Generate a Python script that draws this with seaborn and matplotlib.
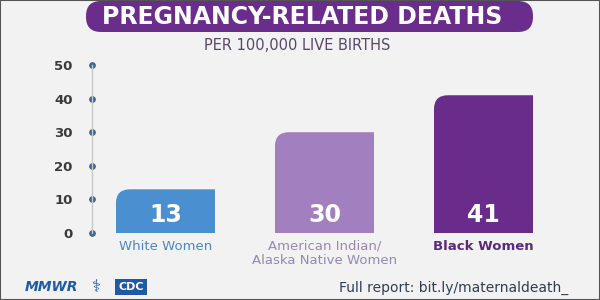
import pandas as pd
import matplotlib.pyplot as plt
import seaborn as sns
from matplotlib.patches import FancyBboxPatch, Rectangle

# values
groups = ['White Women', 'American Indian/\nAlaska Native Women', 'Black Women']
deaths = [13, 30, 41]
bar_colors = ['#4a8fd0', '#a27fbf', '#6a2c8a']
label_colors = ['#4a88c4', '#9a86b0', '#5b2a78']
yticks = [0, 10, 20, 30, 40, 50]

bg = '#f2f2f2'
df = pd.DataFrame({'group': groups, 'deaths': deaths})

sns.set_style('white')
plt.rcParams['font.family'] = ['DejaVu Sans']

fig = plt.figure(figsize=(6, 3), dpi=100, facecolor=bg)
ax = fig.add_axes([92 / 600, 67 / 300, 468 / 600, 168 / 300])
ax.set_facecolor(bg)

sns.barplot(data=df, x='group', y='deaths', hue='group', palette=bar_colors,
            width=0.623, legend=False, ax=ax, saturation=1)
ax.set_xlim(-0.462, 2.481)
ax.set_ylim(0, 50)
ax.set_yticks(yticks)
ax.set_xlabel('')
ax.set_ylabel('')
ax.set_xticks([])

for s in ['top', 'right', 'bottom']:
    ax.spines[s].set_visible(False)
ax.spines['left'].set_color('#c8c8c8')
ax.spines['left'].set_linewidth(1)

ax.tick_params(axis='y', left=True, length=0, pad=14, labelsize=9.5,
               labelcolor='#3a3a3a')
for lab in ax.get_yticklabels():
    lab.set_fontweight('semibold')
for tl in ax.yaxis.get_ticklines():
    tl.set_marker('o')
    tl.set_markersize(4)
    tl.set_markerfacecolor('#3e6690')
    tl.set_markeredgecolor('#3e6690')
    tl.set_clip_on(False)

# round the top-left corner of each bar (sizes in inches)
fig.canvas.draw()
r = 0.14
to_in = ax.transData + fig.dpi_scale_trans.inverted()
for bar, val in zip(ax.patches, deaths):
    bar.set_edgecolor('none')
    bar.set_linewidth(0)
    x0, y0 = bar.get_x(), bar.get_y()
    x1, y1 = x0 + bar.get_width(), y0 + bar.get_height()
    (ix0, iy0), (ix1, iy1) = to_in.transform([(x0, y0), (x1, y1)])
    clip = FancyBboxPatch((ix0, iy0 - 1), (ix1 - ix0) + 1, (iy1 - iy0) + 1,
                          boxstyle=f'round,pad=0,rounding_size={r}',
                          transform=fig.dpi_scale_trans)
    bar.set_clip_path(clip)
    ax.text(x0 + bar.get_width() / 2, 5.4, str(val), ha='center', va='center',
            color='white', fontsize=17, fontweight='heavy')

for i, (g, c) in enumerate(zip(groups, label_colors)):
    ax.text(i, -2.0, g, ha='center', va='top', color=c, fontsize=9.5,
            fontweight='semibold' if i == 2 else 'normal', linespacing=1.15,
            clip_on=False)

# title banner
banner = FancyBboxPatch((0.86, 2.68), 4.47, 0.31,
                        boxstyle='round,pad=0,rounding_size=0.15',
                        transform=fig.dpi_scale_trans, facecolor='#6a2d8c',
                        edgecolor='none')
fig.add_artist(banner)
fig.text(302 / 600, 283 / 300, 'PREGNANCY-RELATED DEATHS', ha='center',
         va='center', color='white', fontsize=17, fontweight='heavy')
fig.text(297 / 600, 255 / 300, 'PER 100,000 LIVE BIRTHS', ha='center',
         va='center', color='#5a4668', fontsize=10.5)

# footer
fig.text(25 / 600, 13 / 300, 'MMWR', ha='left', va='center', color='#1f5aa6',
         fontsize=10, fontweight='heavy', fontstyle='italic')
fig.text(96 / 600, 13 / 300, '\u2695', ha='center', va='center',
         color='#1f5aa6', fontsize=12)
fig.text(131 / 600, 13 / 300, 'CDC', ha='center', va='center', color='white',
         fontsize=8, fontweight='heavy',
         bbox=dict(boxstyle='square,pad=0.25', facecolor='#1f5aa6',
                   edgecolor='none'))
fig.text(568 / 600, 12 / 300, 'Full report: bit.ly/maternaldeath_', ha='right',
         va='center', color='#2e3f52', fontsize=10)

fig.add_artist(Rectangle((0, 0), 1, 1, transform=fig.transFigure,
                         fill=False, edgecolor='#555555', linewidth=1.5))

fig.savefig('out.png', dpi=100, facecolor=bg)
